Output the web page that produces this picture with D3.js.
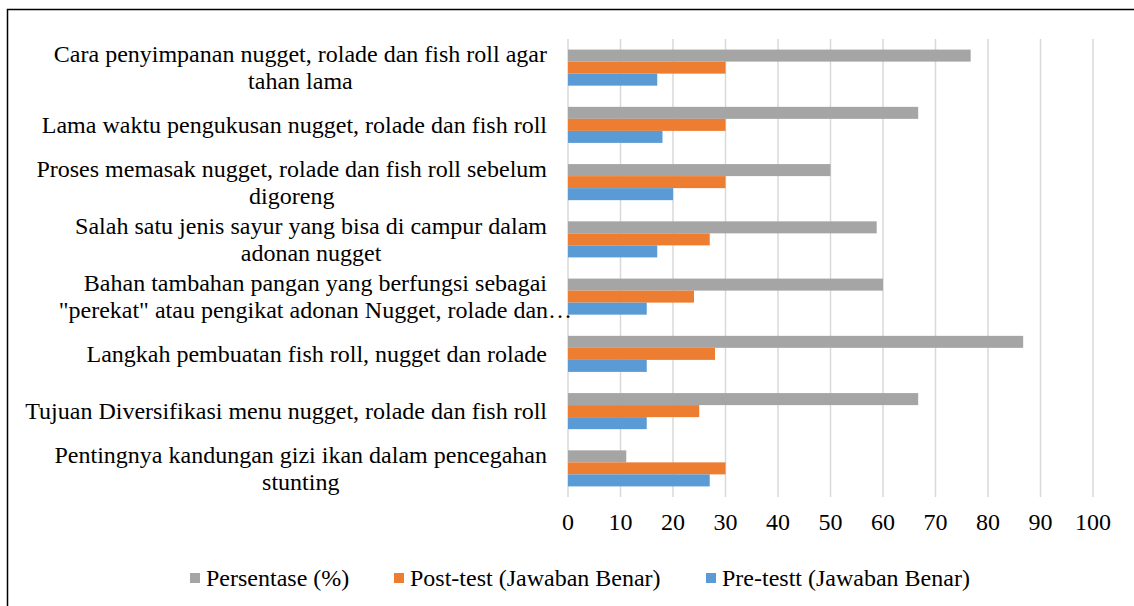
<!DOCTYPE html>
<html>
<head>
<meta charset="utf-8">
<script src="https://cdn.jsdelivr.net/npm/d3@7"></script>
<style>
  html, body { margin: 0; padding: 0; background: #fff; }
  svg { display: block; }
</style>
</head>
<body>
<svg id="chart" width="1134" height="606"></svg>
<script>
// ---- data ----
const categories = [
  ["Cara penyimpanan nugget, rolade dan fish roll agar", "tahan lama"],
  ["Lama waktu pengukusan nugget, rolade dan fish roll"],
  ["Proses memasak nugget, rolade dan fish roll sebelum", "digoreng"],
  ["Salah satu jenis sayur yang bisa di campur dalam", "adonan nugget"],
  ["Bahan tambahan pangan yang berfungsi sebagai", "\"perekat\" atau pengikat adonan Nugget, rolade dan\u2026"],
  ["Langkah pembuatan fish roll, nugget dan rolade"],
  ["Tujuan Diversifikasi menu nugget, rolade dan fish roll"],
  ["Pentingnya kandungan gizi ikan dalam pencegahan", "stunting"]
];
const seriesNames = ["Persentase (%)", "Post-test (Jawaban Benar)", "Pre-testt (Jawaban Benar)"];
const persentase = [76.7, 66.7, 50, 58.8, 60, 86.7, 66.7, 11.1];
const postTest   = [30, 30, 30, 27, 24, 28, 25, 30];
const preTest    = [17, 18, 20, 17, 15, 15, 15, 27];
const xTicks = [0, 10, 20, 30, 40, 50, 60, 70, 80, 90, 100];
const colors = ["#A5A5A5", "#ED7D31", "#5B9BD5"];

const seriesValues = [persentase, postTest, preTest];

// ---- layout ----
const FF = "Liberation Serif";
const svg = d3.select("#chart").attr("font-family", FF);
const plot = { left: 568, right: 1093, top: 39, bottom: 497 };
const FONT = 24;

// frame
svg.append("path")
  .attr("d", `M7.5,606 L7.5,9.5 L1134,9.5`)
  .attr("fill", "none").attr("stroke", "#000").attr("stroke-width", 1.5);

const x = d3.scaleLinear().domain([0, 100]).range([plot.left, plot.right]);
const y = d3.scaleBand().domain(d3.range(categories.length))
  .range([plot.top, plot.bottom]).paddingInner(0.37).paddingOuter(0.185);
const ySub = d3.scaleBand().domain(d3.range(seriesNames.length)).range([0, y.bandwidth()]);

// gridlines
svg.append("g").selectAll("line").data(xTicks).join("line")
  .attr("x1", d => x(d)).attr("x2", d => x(d))
  .attr("y1", plot.top).attr("y2", plot.bottom)
  .attr("stroke", "#D9D9D9").attr("stroke-width", 1.5);

// bars
const groups = svg.append("g").selectAll("g").data(categories).join("g")
  .attr("transform", (d, i) => `translate(0,${y(i)})`);
groups.each(function(d, i) {
  d3.select(this).selectAll("rect").data(seriesValues.map((s, k) => ({ k, v: s[i] }))).join("rect")
    .attr("x", x(0))
    .attr("y", e => ySub(e.k))
    .attr("width", e => x(e.v) - x(0))
    .attr("height", ySub.bandwidth())
    .attr("fill", e => colors[e.k]);
});

// x tick labels
svg.append("g").selectAll("text").data(xTicks).join("text")
  .attr("font-family", FF)
  .attr("x", d => x(d)).attr("y", 530)
  .attr("text-anchor", "middle").attr("font-size", FONT)
  .text(d => d);

// category labels (lines centred in a box right-aligned to the axis; truncated lines overflow)
const labelRight = 547;
const lineH = 27;
const labelG = svg.append("g");
categories.forEach((lines, i) => {
  const cy = y(i) + y.bandwidth() / 2;
  const g = labelG.append("g");
  const ts = lines.map((t, j) => g.append("text")
    .attr("font-family", FF)
    .attr("font-size", FONT)
    .attr("text-anchor", "middle")
    .attr("y", cy + (j - (lines.length - 1) / 2) * lineH)
    .attr("dy", "0.33em")
    .text(t));
  const widths = ts.map((t, j) => lines[j].endsWith("\u2026") ? 0 : t.node().getComputedTextLength());
  const w = d3.max(widths);
  const cx = labelRight - w / 2;
  ts.forEach(t => t.attr("x", cx));
});

// legend
const legendY = 578;
const legendX = [190, 394, 706];
const leg = svg.append("g").selectAll("g").data(seriesNames).join("g")
  .attr("transform", (d, i) => `translate(${legendX[i]},${legendY})`);
leg.append("rect").attr("x", 0).attr("y", -5).attr("width", 10).attr("height", 10)
  .attr("fill", (d, i) => colors[i]);
leg.append("text").attr("font-family", FF).attr("x", 16).attr("dy", "0.33em").attr("font-size", FONT).text(d => d);
</script>
</body>
</html>
